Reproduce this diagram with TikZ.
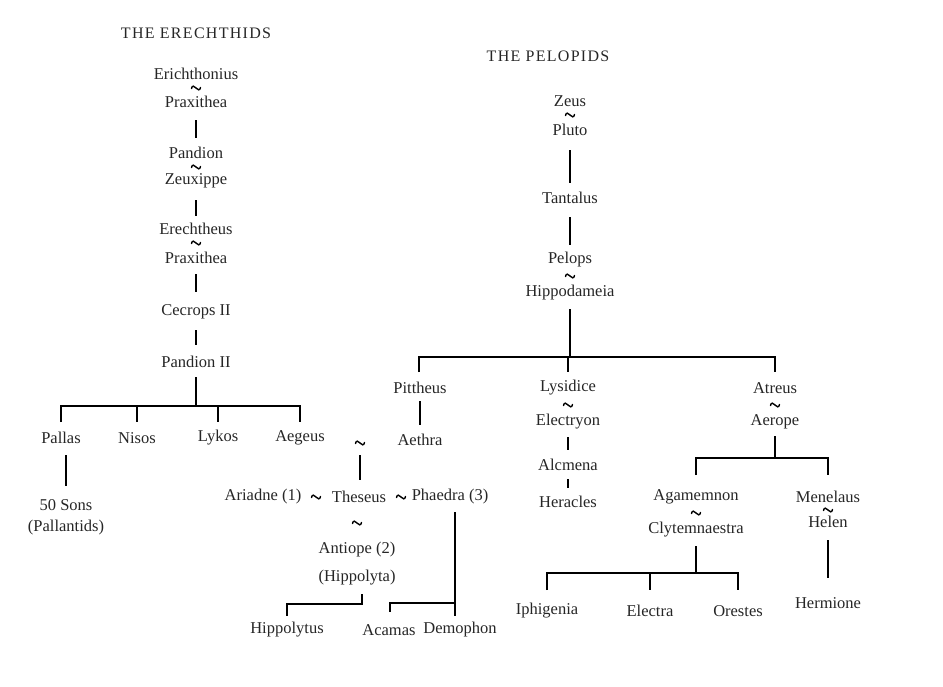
\documentclass[tikz,border=0pt]{standalone}
\usepackage{fontspec}
\setmainfont{Liberation Serif}
\newfontfamily\ttlfont[LetterSpace=8]{Liberation Serif}
\begin{document}
\begin{tikzpicture}[x=1pt,y=-1pt,
  nm/.style={font=\fontsize{16.5}{18}\selectfont, inner sep=1pt, text=black!85},
  ttl/.style={font=\ttlfont\fontsize{16}{18}\selectfont, inner sep=1pt, text=black!85},
  mar/.style={inner sep=0pt, minimum width=12pt, minimum height=9pt,
    path picture={\draw[line width=1.4pt, line cap=round]
      ([xshift=-4.5pt,yshift=-0.5pt]path picture bounding box.center)
      .. controls +(0.5pt,3.5pt) and +(-1.5pt,2pt) .. (path picture bounding box.center)
      .. controls +(1.5pt,-2pt) and +(-0.5pt,-3.5pt) .. ([xshift=4.5pt,yshift=0.5pt]path picture bounding box.center);}},
  ln/.style={line width=1.7pt}]
\useasboundingbox (0,0) rectangle (943,686);
\node[ttl] (t1) at (196,33) {THE ERECHTHIDS};
\node[ttl] (t2) at (548,56) {THE PELOPIDS};
% Erechthids
\node[nm] (eri) at (196,74) {Erichthonius};
\node[mar] (m1) at (196,88) {};
\node[nm] (pr1) at (196,102) {Praxithea};
\node[nm] (pan) at (196,153) {Pandion};
\node[mar] (m2) at (196,167) {};
\node[nm] (zeu) at (196,181) {Zeuxippe};
\node[nm] (ere) at (196,229) {Erechtheus};
\node[mar] (m3) at (196,243) {};
\node[nm] (pr2) at (196,258) {Praxithea};
\node[nm] (cec) at (196,312) {Cecrops II};
\node[nm] (pa2) at (196,362) {Pandion II};
\draw[ln] (196,120)--(196,138); \draw[ln] (196,200)--(196,216);
\draw[ln] (196,274)--(196,292); \draw[ln] (196,330)--(196,345);
\node[nm] (pal) at (61,438) {Pallas};
\node[nm] (nis) at (137,438) {Nisos};
\node[nm] (lyk) at (218,438) {Lykos};
\node[nm] (aeg) at (300,438) {Aegeus};
\draw[ln] (196,377)--(196,406);
\draw[ln] (61,422)--(61,406)--(300,406)--(300,422);
\draw[ln] (137,406)--(137,422); \draw[ln] (218,406)--(218,422);
\node[nm] (son) at (66,505) {50 Sons};
\node[nm] (pll) at (66,528) {(Pallantids)};
\draw[ln] (66,455)--(66,486);
\node[mar] (m4) at (360,443) {};
\draw[ln] (360,455)--(360,480);
\node[nm] (ari) at (263,497) {Ariadne (1)};
\node[mar] (m5) at (316,497) {};
\node[nm] (the) at (359,497) {Theseus};
\node[mar] (m6) at (401,497) {};
\node[nm] (pha) at (450,497) {Phaedra (3)};
\node[mar] (m7) at (357,523) {};
\node[nm] (ant) at (357,550) {Antiope (2)};
\node[nm] (hip) at (357,578) {(Hippolyta)};
\node[nm] (hpl) at (287,630) {Hippolytus};
\node[nm] (aca) at (389,630) {Acamas};
\node[nm] (dem) at (460,630) {Demophon};
\draw[ln] (362,594)--(362,604)--(287,604)--(287,616);
\draw[ln] (455,512)--(455,616);
\draw[ln] (455,603)--(390,603)--(390,612);
% Pelopids
\node[nm] (zs) at (570,101) {Zeus};
\node[mar] (m8) at (570,115) {};
\node[nm] (plu) at (570,130) {Pluto};
\node[nm] (tan) at (570,198) {Tantalus};
\node[nm] (pel) at (570,260) {Pelops};
\node[mar] (m9) at (570,276) {};
\node[nm] (hpd) at (570,293) {Hippodameia};
\draw[ln] (570,150)--(570,183);
\draw[ln] (570,217)--(570,245);
\draw[ln] (570,309)--(570,357);
\draw[ln] (419,372)--(419,357)--(775,357)--(775,372);
\draw[ln] (568,357)--(568,372);
\node[nm] (pit) at (420,388) {Pittheus};
\node[nm] (aet) at (420,440) {Aethra};
\draw[ln] (420,401)--(420,425);
\node[nm] (lys) at (568,388) {Lysidice};
\node[mar] (m10) at (568,405) {};
\node[nm] (ele) at (568,422) {Electryon};
\node[nm] (alc) at (568,465) {Alcmena};
\node[nm] (her) at (568,502) {Heracles};
\draw[ln] (568,437)--(568,450);
\draw[ln] (568,479)--(568,488);
\node[nm] (atr) at (775,388) {Atreus};
\node[mar] (m11) at (775,405) {};
\node[nm] (aer) at (775,422) {Aerope};
\draw[ln] (775,436)--(775,458);
\draw[ln] (696,475)--(696,458)--(828,458)--(828,475);
\node[nm] (aga) at (696,497) {Agamemnon};
\node[mar] (m12) at (696,513) {};
\node[nm] (cly) at (696,530) {Clytemnaestra};
\draw[ln] (696,546)--(696,573);
\draw[ln] (547,590)--(547,573)--(738,573)--(738,590);
\draw[ln] (650,573)--(650,590);
\node[nm] (iph) at (547,611) {Iphigenia};
\node[nm] (elc) at (650,611) {Electra};
\node[nm] (ore) at (738,611) {Orestes};
\node[nm] (men) at (828,497) {Menelaus};
\node[mar] (m13) at (828,510) {};
\node[nm] (hel) at (828,522) {Helen};
\node[nm] (hrm) at (828,603) {Hermione};
\draw[ln] (828,540)--(828,578);
\end{tikzpicture}
\end{document}
